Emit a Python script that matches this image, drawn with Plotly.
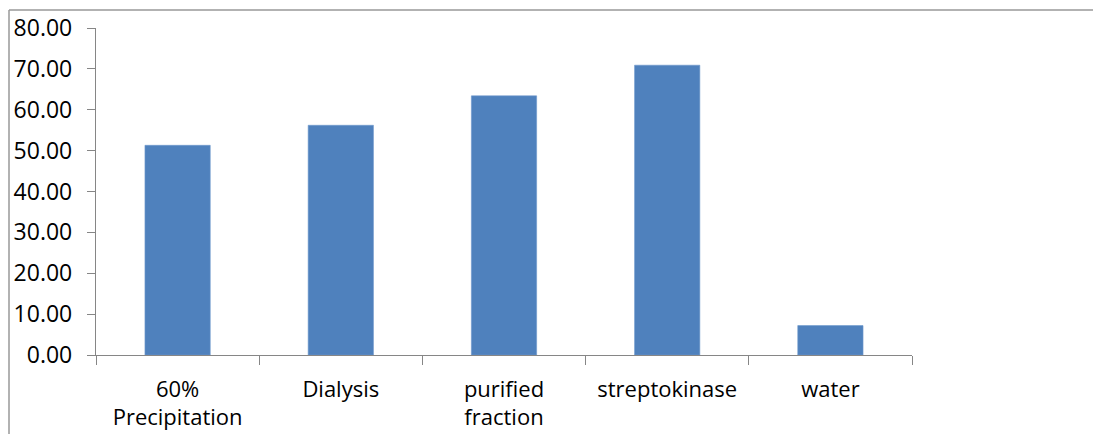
import plotly.graph_objects as go

categories = ["60%<br>Precipitation", "Dialysis", "purified<br>fraction", "streptokinase", "water"]
values = [51.3, 56.2, 63.4, 70.9, 7.2]
y_ticks = [0, 10, 20, 30, 40, 50, 60, 70, 80]
y_tick_labels = [f"{v:.2f}" for v in y_ticks]

fig = go.Figure()
fig.add_trace(go.Bar(
    x=categories, y=values,
    marker=dict(color="#4F81BD", line=dict(color="#6f98cc", width=0.6)),
    width=0.4,
))

# page has an 8px body margin; figure coordinates are page - 8
OFF = 8
W, H = 1101 - OFF, 434 - OFF
L, T = 96 - OFF, 28 - OFF
R = W - (912 - OFF)
B = H - (355 - OFF)
pw, ph = W - L - R, H - T - B

frame_x = 9 - OFF
frame_y = 10 - OFF

fig.update_layout(
    width=W, height=H,
    margin=dict(l=L, r=R, t=T, b=B, pad=0),
    paper_bgcolor="white", plot_bgcolor="white",
    showlegend=False,
    font=dict(family="Open Sans", size=23, color="black"),
    xaxis=dict(
        automargin=False,
        showline=True, linecolor="#868686", linewidth=1.3,
        ticks="outside", tickson="boundaries", ticklen=9, tickcolor="#868686", tickwidth=1.3,
        showgrid=False, zeroline=False,
        ticklabelstandoff=14,
        tickfont=dict(family="Open Sans", size=22, color="black"),
    ),
    yaxis=dict(
        automargin=False,
        range=[0, 80], tickvals=y_ticks, ticktext=y_tick_labels,
        showline=True, linecolor="#868686", linewidth=1.3,
        ticks="outside", ticklen=8, tickcolor="#868686", tickwidth=1.3,
        showgrid=False, zeroline=False,
        ticklabelstandoff=10,
        tickfont=dict(family="Open Sans", size=23, color="black"),
    ),
    shapes=[
        dict(type="line", xref="paper", yref="paper",
             x0=(frame_x - L) / pw, x1=(W + 5 - L) / pw,
             y0=(H - B - frame_y) / ph, y1=(H - B - frame_y) / ph,
             line=dict(color="#999999", width=1.5)),
        dict(type="line", xref="paper", yref="paper",
             x0=(frame_x - L) / pw, x1=(frame_x - L) / pw,
             y0=(H - B - frame_y) / ph, y1=(H - B - H - 5) / ph,
             line=dict(color="#999999", width=1.5)),
    ],
)

fig.write_html("out.html")
